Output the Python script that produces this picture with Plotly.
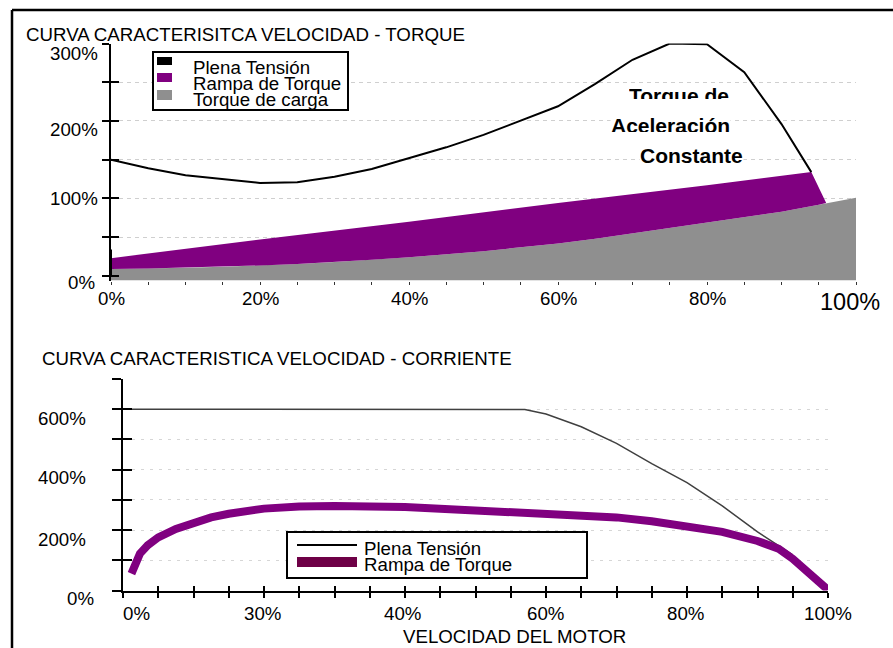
import plotly.graph_objects as go

# ---------------------------------------------------------------------------
# Data
# ---------------------------------------------------------------------------
# Torque vs. speed (upper panel), values in % of nominal
FULL_V_SPEED = [0, 5, 10, 15, 20, 25, 30, 35, 40, 45, 50, 55, 60, 65, 70, 75, 80, 85, 90, 94]
FULL_V_TORQUE = [150, 139, 130, 125, 120, 121, 128, 138, 152, 166, 182, 201, 219, 248, 279, 300, 299, 263, 196, 134]
FULL_V_START_SPEED = [0, 0]
FULL_V_START_TORQUE = [0, 34]

RAMP_SPEED = [0, 20, 40, 60, 80, 94, 96]
RAMP_TORQUE = [23, 47, 70, 94, 117, 134, 94]

LOAD_SPEED = [0, 5, 10, 15, 20, 25, 30, 35, 40, 45, 50, 55, 60, 65, 70, 75, 80, 85, 90, 95, 100]
LOAD_TORQUE = [9, 9.5, 10.5, 12, 13.5, 15.5, 18, 21, 24, 28, 32, 37, 42, 48, 55, 62, 69, 76, 83, 92, 101]

# Current vs. speed (lower panel), values in % of nominal
CUR_FULL_SPEED = [0, 55, 57, 60, 65, 70, 75, 80, 85, 90, 93, 95]
CUR_FULL = [600, 600, 599, 584, 542, 487, 420, 357, 280, 194, 148, 118]

CUR_RAMP_SPEED = [1.2, 1.8, 2.4, 3.5, 5, 7.5, 10, 12.5, 15, 20, 25, 30, 40, 45, 50, 55,
                  60, 65, 70, 75, 80, 85, 90, 93, 95, 100]
CUR_RAMP = [56, 95, 122, 150, 176, 204, 226, 242, 254, 271, 278, 280, 276, 271, 267, 263,
            258, 251, 242, 229, 214, 194, 164, 138, 105, 2]

# Tick labels
TOP_X_TICKS = [0, 20, 40, 60, 80, 100]
TOP_X_LABELS = ["0%", "20%", "40%", "60%", "80%", "100%"]
TOP_Y_TICKS = [0, 100, 200, 300]
TOP_Y_LABELS = ["0%", "100%", "200%", "300%"]
BOT_X_TICKS = [0, 20, 40, 60, 80, 100]
BOT_X_LABELS = ["0%", "30%", "40%", "60%", "80%", "100%"]
BOT_Y_TICKS = [0, 200, 400, 600]
BOT_Y_LABELS = ["0%", "200%", "400%", "600%"]

SERIES_TOP = ["Plena Tensión", "Rampa de Torque", "Torque de carga"]
SERIES_BOT = ["Plena Tensión", "Rampa de Torque"]

# ---------------------------------------------------------------------------
# Styling
# ---------------------------------------------------------------------------
W, H = 893, 648
FONT = "Liberation Sans, Arial, sans-serif"
FS = 18.7
PURPLE = "#800080"
GRAY = "#8f8f8f"
MAROON = "#6e0046"
DARK = "#404040"

Y1_RANGE = [-6, 300]
Y2_RANGE = [0, 700]


def px_x(v):
    return v / W


def px_y(v):
    return 1 - v / H


fig = go.Figure()

# ---- upper panel ---------------------------------------------------------
fig.add_trace(go.Scatter(
    x=LOAD_SPEED, y=[Y1_RANGE[0]] * len(LOAD_SPEED), mode="lines",
    line=dict(width=0), hoverinfo="skip", showlegend=False))
fig.add_trace(go.Scatter(
    x=LOAD_SPEED, y=LOAD_TORQUE, mode="lines", fill="tonexty",
    fillcolor=GRAY, line=dict(width=0, color=GRAY),
    name=SERIES_TOP[2], showlegend=False))

band_x = RAMP_SPEED + [s for s in reversed(LOAD_SPEED) if s <= RAMP_SPEED[-1]]
band_y = RAMP_TORQUE + [t for s, t in zip(reversed(LOAD_SPEED), reversed(LOAD_TORQUE))
                        if s <= RAMP_SPEED[-1]]
fig.add_trace(go.Scatter(
    x=band_x, y=band_y, mode="lines", fill="toself", fillcolor=PURPLE,
    line=dict(width=0, color=PURPLE), name=SERIES_TOP[1], showlegend=False))

fig.add_trace(go.Scatter(
    x=FULL_V_START_SPEED + [None] + FULL_V_SPEED,
    y=FULL_V_START_TORQUE + [None] + FULL_V_TORQUE,
    mode="lines", line=dict(color="black", width=2),
    name=SERIES_TOP[0], showlegend=False))

# helper trace so the inner tick axis gets drawn
fig.add_trace(go.Scatter(x=[], y=[], xaxis="x", yaxis="y3", showlegend=False))

# ---- lower panel ---------------------------------------------------------
fig.add_trace(go.Scatter(
    x=CUR_FULL_SPEED, y=CUR_FULL, mode="lines", xaxis="x2", yaxis="y2",
    line=dict(color=DARK, width=1.5), name=SERIES_BOT[0], showlegend=False))
fig.add_trace(go.Scatter(
    x=CUR_RAMP_SPEED, y=CUR_RAMP, mode="lines", xaxis="x2", yaxis="y2",
    line=dict(color=PURPLE, width=8),
    name=SERIES_BOT[1], showlegend=False))
fig.add_trace(go.Scatter(x=[], y=[], xaxis="x2", yaxis="y4", showlegend=False))
fig.add_trace(go.Scatter(x=[], y=[], xaxis="x4", yaxis="y2", showlegend=False))

# ---------------------------------------------------------------------------
# Axes
# ---------------------------------------------------------------------------
top_dom_x = [px_x(111), px_x(856)]
top_dom_y = [px_y(280.6), px_y(43.5)]
bot_dom_x = [px_x(123), px_x(828)]
bot_dom_y = [px_y(590.5), px_y(379)]

common = dict(showticklabels=False, zeroline=False, fixedrange=True)

fig.update_layout(
    xaxis=dict(domain=top_dom_x, range=[0, 100], anchor="y", showgrid=False,
               showline=False, ticks="outside", ticklen=3, tickwidth=1,
               tickcolor="#333333", tick0=0, dtick=5, **common),
    yaxis=dict(domain=top_dom_y, range=Y1_RANGE, anchor="x", showline=True,
               linecolor="black", linewidth=2, ticks="outside", ticklen=7,
               tickwidth=2, tickcolor="black", tickmode="array",
               tickvals=[0, 50, 100, 150, 200, 250, 300], showgrid=True,
               gridcolor="#cfcfcf", gridwidth=1, griddash="4px,4px", **common),
    yaxis3=dict(overlaying="y", anchor="x", side="left", range=Y1_RANGE,
                ticks="inside", ticklen=8, tickwidth=2, tickcolor="black",
                tickmode="array", tickvals=[0, 50, 100, 150, 200, 250, 300],
                showgrid=False, showline=False, **common),
    xaxis2=dict(domain=bot_dom_x, range=[0, 100], anchor="y2", showgrid=False,
                showline=True, linecolor="black", linewidth=2, ticks="outside",
                ticklen=5, tickwidth=2, tickcolor="black", tick0=0, dtick=5,
                **common),
    xaxis4=dict(overlaying="x2", anchor="y2", side="bottom", range=[0, 100],
                ticks="inside", ticklen=5, tickwidth=2, tickcolor="black",
                tick0=0, dtick=5, showgrid=False, showline=False, **common),
    yaxis2=dict(domain=bot_dom_y, range=Y2_RANGE, anchor="x2", showline=True,
                linecolor="black", linewidth=2, ticks="outside", ticklen=9,
                tickwidth=2, tickcolor="black", tick0=0, dtick=100,
                showgrid=True, gridcolor="#d6d6d6", gridwidth=1,
                griddash="3px,6px", **common),
    yaxis4=dict(overlaying="y2", anchor="x2", side="left", range=Y2_RANGE,
                ticks="inside", ticklen=9, tickwidth=2, tickcolor="black",
                tick0=0, dtick=100, showgrid=False, showline=False, **common),
)

# ---------------------------------------------------------------------------
# Text
# ---------------------------------------------------------------------------
ann = []


def label(text, x, y, xref="paper", yref="paper", size=FS, xanchor="center",
          yanchor="middle", xshift=0, yshift=0, **kw):
    ann.append(dict(text=text, x=x, y=y, xref=xref, yref=yref, showarrow=False,
                    xanchor=xanchor, yanchor=yanchor, xshift=xshift, yshift=yshift,
                    font=dict(family=FONT, size=size, color="black"), **kw))


# titles
label("CURVA CARACTERISITCA VELOCIDAD - TORQUE", px_x(24), px_y(34), xanchor="left")
label("CURVA CARACTERISTICA VELOCIDAD - CORRIENTE", px_x(40), px_y(358), xanchor="left")
label("VELOCIDAD DEL MOTOR", px_x(514), px_y(636))

# upper panel tick labels
top_y_right = [97, 100, 100, 100]
top_y_down = [7, 0, 9, 9.5]
for v, t, r, d in zip(TOP_Y_TICKS, TOP_Y_LABELS, top_y_right, top_y_down):
    label(t, px_x(r), v, yref="y", xanchor="right", yshift=-d)
for v, t in zip(TOP_X_TICKS, TOP_X_LABELS):
    if v == TOP_X_TICKS[-1]:
        label(t, v, px_y(302), xref="x", size=23.5, xshift=-6)
    else:
        label(t, v, px_y(298.5), xref="x")

# lower panel tick labels
bot_y_right = [96, 88, 88, 88]
bot_y_down = [8, 9, 8, 9]
for v, t, r, d in zip(BOT_Y_TICKS, BOT_Y_LABELS, bot_y_right, bot_y_down):
    label(t, px_x(r), v, yref="y2", xanchor="right", yshift=-d)
bot_x_shift = [13, -2, -3, -1, -2, 0]
for v, t, s in zip(BOT_X_TICKS, BOT_X_LABELS, bot_x_shift):
    label(t, v, px_y(613), xref="x2", xshift=s)

# note inside the upper panel
label("<b>Torque de</b>", px_x(679), px_y(83), size=21, yanchor="top",
      bgcolor="white", borderpad=0, height=15, valign="top")
label("<b>Aceleración</b>", px_x(670), px_y(113.5), size=21, yanchor="top",
      bgcolor="white", borderpad=0, height=18, valign="top")
label("<b>Constante</b>", px_x(691), px_y(155.5), size=21, bgcolor="white",
      borderpad=0)

# ---------------------------------------------------------------------------
# Legends and frame
# ---------------------------------------------------------------------------
shapes = []


def rect(x0, y0, x1, y1, fill, line_color=None, line_width=0):
    shapes.append(dict(type="rect", xref="paper", yref="paper", layer="above",
                       x0=px_x(x0), x1=px_x(x1), y0=px_y(y1), y1=px_y(y0),
                       fillcolor=fill,
                       line=dict(color=line_color or fill, width=line_width)))


def hline(x0, x1, y, color, width):
    shapes.append(dict(type="line", xref="paper", yref="paper", layer="above",
                       x0=px_x(x0), x1=px_x(x1), y0=px_y(y), y1=px_y(y),
                       line=dict(color=color, width=width)))


# upper legend
rect(153, 52, 348, 110, "white", "black", 2)
top_swatch = [("black", 57, 65), (PURPLE, 73, 82), (GRAY, 90, 100)]
top_text_y = [67, 83, 99]
for (c, a, b), ty, name in zip(top_swatch, top_text_y, SERIES_TOP):
    rect(157, a, 172, b, c)
    label(name, px_x(191), px_y(ty), xanchor="left")

# lower legend
rect(287, 532, 587, 578, "white", "black", 2)
hline(297, 357, 545, "black", 2)
rect(297, 557, 357, 567, MAROON)
for ty, name in zip([548.5, 564], SERIES_BOT):
    label(name, px_x(362), px_y(ty), xanchor="left")

# outer frame (top and left edges)
shapes.append(dict(type="line", xref="paper", yref="paper", x0=px_x(12), x1=1.0,
                   y0=px_y(10), y1=px_y(10), line=dict(color="black", width=2.5)))
shapes.append(dict(type="line", xref="paper", yref="paper", x0=px_x(12), x1=px_x(12),
                   y0=0.0, y1=px_y(10), line=dict(color="black", width=2.5)))

fig.update_layout(
    width=W, height=H, autosize=False,
    margin=dict(l=0, r=0, t=0, b=0),
    paper_bgcolor="white", plot_bgcolor="white",
    showlegend=False,
    font=dict(family=FONT, size=FS, color="black"),
    annotations=ann, shapes=shapes,
)

fig.write_html("out.html")
